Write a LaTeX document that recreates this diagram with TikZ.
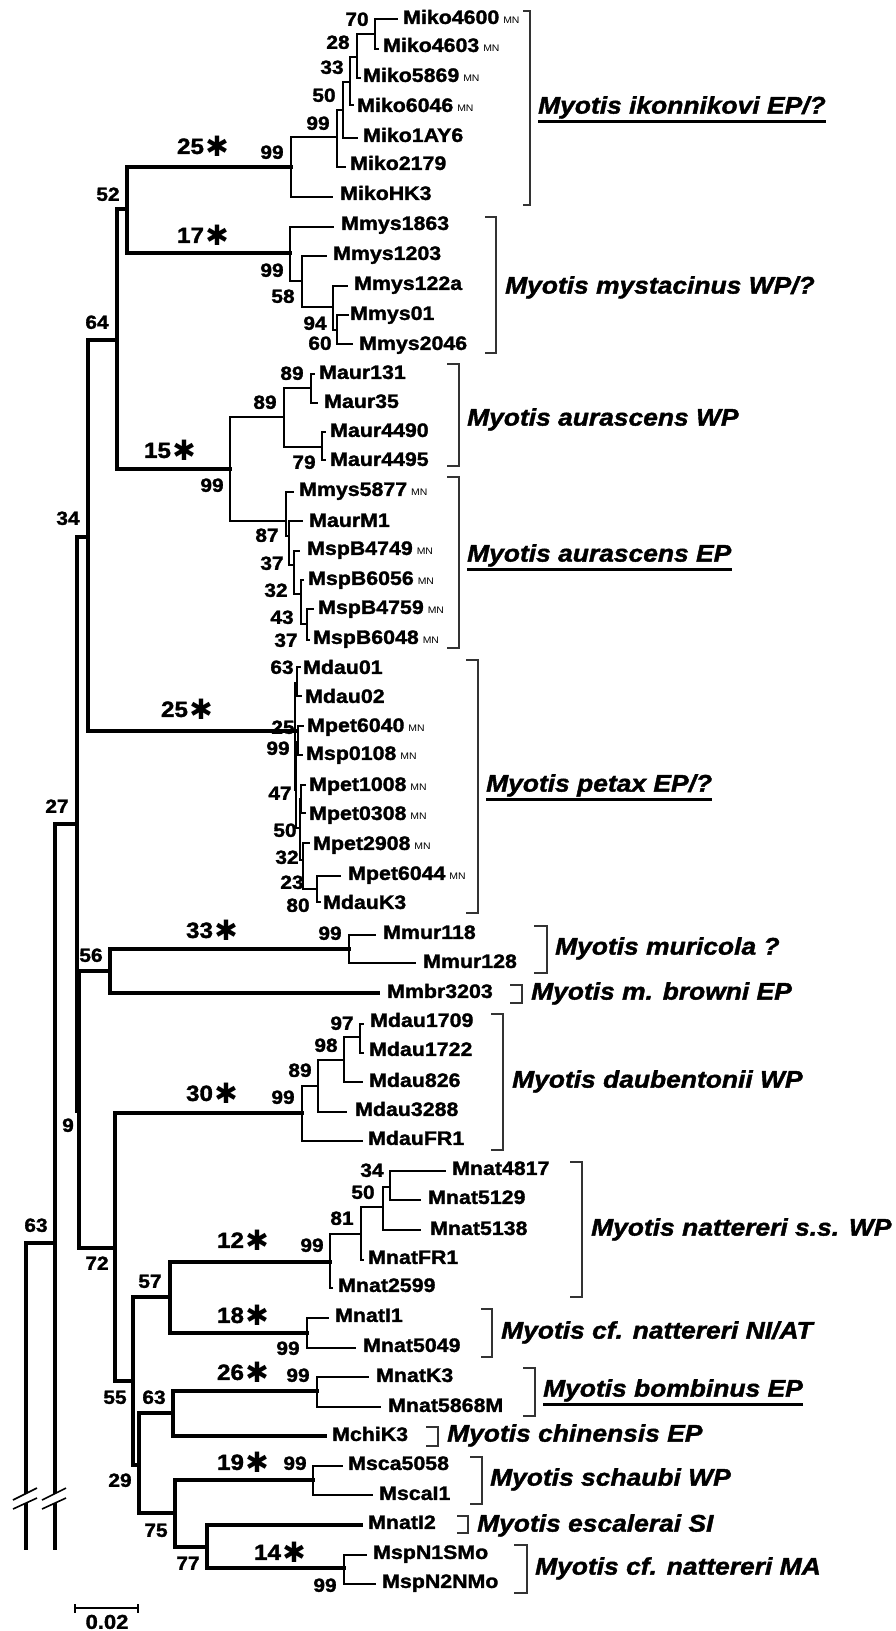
\documentclass[tikz,border=0pt]{standalone}
\usepackage{fontspec}
\setmainfont{Liberation Sans}[FakeStretch=1.1]
\newfontfamily\hvy{Liberation Sans Bold}[FakeStretch=1.1,FakeBold=1.6]
\newfontfamily\hvyit{Liberation Sans Bold Italic}[FakeStretch=1.1,FakeBold=1.6]
\newfontfamily\starfont{DejaVu Sans}
\newcommand\taxf{\fontsize{19.4}{22}\selectfont\hvy}
\newcommand\bsf{\fontsize{19}{22}\selectfont\hvy}
\newcommand\agef{\fontsize{22}{24}\selectfont\hvy}
\newcommand\spcf{\fontsize{24}{26}\selectfont\hvyit}
\newcommand\mn{\hspace{4pt}{\fontsize{9.5}{10}\selectfont\rmfamily\mdseries MN}}
\newcommand\agestar{\hspace{1.5pt}\raisebox{-2.2pt}{\starfont\bfseries\fontsize{28}{30}\selectfont ✱}}
\begin{document}
\begin{tikzpicture}[x=1pt,y=-1pt,
  thinln/.style={line width=1.3pt,line cap=rect},
  thickln/.style={line width=3.8pt,line cap=rect,line join=miter},
  brkln/.style={line width=1.6pt,draw=black!80},
  uline/.style={line width=3pt},
  tax/.style={anchor=base west,inner sep=0pt,yshift=-6.9pt,font=\taxf},
  bs/.style={anchor=base,inner sep=0pt,yshift=-6.8pt,font=\bsf},
  age/.style={anchor=base,inner sep=0pt,yshift=-7.9pt,font=\agef},
  spc/.style={anchor=base west,inner sep=0pt,yshift=-8.6pt,font=\spcf}]
\useasboundingbox (0,0) rectangle (896,1631);
% ---------- backbone coordinates
\coordinate (cut1) at (26,1548);
\coordinate (cut2) at (55,1548);
\coordinate (rt) at (26,1243);
\coordinate (n63) at (55,1243);
\coordinate (n27) at (77,824);
\coordinate (n34) at (88,537);
\coordinate (n64) at (117,340);
\coordinate (n52) at (127,209);
\coordinate (K99) at (291,167);
\coordinate (Y99) at (290,253);
\coordinate (A99) at (230,469);
\coordinate (P99) at (295,731);
\coordinate (n9) at (79,1111);
\coordinate (n56) at (110,971);
\coordinate (U99) at (349,949);
\coordinate (tMmbr) at (378,993);
\coordinate (n72) at (115,1248);
\coordinate (D99) at (302,1113);
\coordinate (n55) at (133,1381);
\coordinate (n57) at (170,1297);
\coordinate (N99) at (330,1262);
\coordinate (I99) at (307,1333);
\coordinate (n29) at (139,1465);
\coordinate (n63b) at (173,1413);
\coordinate (B99) at (317,1391);
\coordinate (tMchi) at (325,1436);
\coordinate (n75) at (175,1513);
\coordinate (S99) at (313,1480);
\coordinate (n77) at (207,1547);
\coordinate (tMnatI2) at (361,1525);
\coordinate (M99) at (344,1568);
% ---------- clade coordinates
\coordinate (K99i) at (337,137); \coordinate (tHK3) at (332,197);
\coordinate (K50) at (343,110);  \coordinate (t2179) at (345,167);
\coordinate (K33) at (350,82);   \coordinate (t1AY6) at (357,138);
\coordinate (K28) at (357,57);   \coordinate (t6046) at (353,105);
\coordinate (K70) at (375,34);   \coordinate (t5869) at (360,78);
\coordinate (t4600) at (397,19); \coordinate (t4603) at (378,49);
\coordinate (t1863) at (333,227); \coordinate (Y58) at (302,281);
\coordinate (t1203) at (326,256); \coordinate (Y94) at (333,307);
\coordinate (t122a) at (347,286); \coordinate (Y60) at (337,330);
\coordinate (t01) at (348,315);   \coordinate (t2046) at (352,344);
\coordinate (A89) at (284,417);  \coordinate (A87) at (286,521);
\coordinate (A89b) at (311,388); \coordinate (A79) at (322,447);
\coordinate (tM131) at (314,374); \coordinate (tM35) at (317,403);
\coordinate (t4490) at (325,432); \coordinate (t4495) at (325,460);
\coordinate (t5877) at (293,492); \coordinate (A37) at (289,536);
\coordinate (tM1) at (302,521);   \coordinate (A32) at (294,565);
\coordinate (t4749) at (299,551); \coordinate (A43) at (301,594);
\coordinate (t6056) at (303,580); \coordinate (A37b) at (307,624);
\coordinate (t4759) at (313,609); \coordinate (t6048) at (309,640);
\coordinate (P63) at (297,683); \coordinate (Q1) at (296,790);
\coordinate (tD01) at (300,667); \coordinate (tD02) at (301,696);
\coordinate (P25) at (298,742); \coordinate (Q2) at (300,828);
\coordinate (t6040) at (303,726); \coordinate (t0108) at (302,755);
\coordinate (P47) at (301,799); \coordinate (Q3) at (303,860);
\coordinate (t1008) at (305,785); \coordinate (t0308) at (305,813);
\coordinate (t2908) at (309,843); \coordinate (P80) at (317,889);
\coordinate (t6044) at (340,876); \coordinate (tK3) at (320,902);
\coordinate (t118) at (375,935); \coordinate (t128) at (415,963);
\coordinate (D89) at (318,1086); \coordinate (tFR1) at (362,1141);
\coordinate (D98) at (344,1060); \coordinate (t3288) at (346,1112);
\coordinate (D97) at (360,1037); \coordinate (t826) at (362,1082);
\coordinate (t1709) at (363,1024); \coordinate (t1722) at (363,1053);
\coordinate (N81) at (361,1234); \coordinate (t2599) at (332,1288);
\coordinate (N50) at (383,1207); \coordinate (tnFR1) at (363,1260);
\coordinate (N34) at (390,1187); \coordinate (t5138) at (420,1230);
\coordinate (t4817) at (445,1171); \coordinate (t5129) at (420,1200);
\coordinate (tI1) at (328,1318); \coordinate (t5049) at (355,1348);
\coordinate (tK3b) at (368,1377); \coordinate (t5868) at (380,1407);
\coordinate (t5058) at (342,1466); \coordinate (tscaI1) at (372,1495);
\coordinate (tN1) at (366,1555); \coordinate (tN2) at (375,1584);
% ---------- thick backbone
\draw[thickln] (rt) -- (n63);
\draw[thickln] (rt) -- (cut1);
\draw[thickln] (n63) -- (cut2);
\foreach \p/\c in {n63/n27,n27/n34,n27/n9,n34/n64,n34/P99,n64/n52,n64/A99,
  n52/K99,n52/Y99,n9/n56,n9/n72,n56/U99,n56/tMmbr,n72/D99,n72/n55,
  n55/n57,n55/n29,n57/N99,n57/I99,n29/n63b,n29/n75,n63b/B99,n63b/tMchi,
  n75/S99,n75/n77,n77/tMnatI2,n77/M99}
  \draw[thickln] (\p) |- (\c);
% ---------- thin clade branches
\foreach \p/\c in {K99/K99i,K99/tHK3,K99i/K50,K99i/t2179,K50/K33,K50/t1AY6,
  K33/K28,K33/t6046,K28/K70,K28/t5869,K70/t4600,K70/t4603,
  Y99/t1863,Y99/Y58,Y58/t1203,Y58/Y94,Y94/t122a,Y94/Y60,Y60/t01,Y60/t2046,
  A99/A89,A99/A87,A89/A89b,A89/A79,A89b/tM131,A89b/tM35,A79/t4490,A79/t4495,
  A87/t5877,A87/A37,A37/tM1,A37/A32,A32/t4749,A32/A43,A43/t6056,A43/A37b,
  A37b/t4759,A37b/t6048,
  P99/P63,P99/Q1,P63/tD01,P63/tD02,Q1/P25,Q1/Q2,P25/t6040,P25/t0108,
  Q2/P47,Q2/Q3,P47/t1008,P47/t0308,Q3/t2908,Q3/P80,P80/t6044,P80/tK3,
  U99/t118,U99/t128,
  D99/D89,D99/tFR1,D89/D98,D89/t3288,D98/D97,D98/t826,D97/t1709,D97/t1722,
  N99/N81,N99/t2599,N81/N50,N81/tnFR1,N50/N34,N50/t5138,N34/t4817,N34/t5129,
  I99/tI1,I99/t5049,B99/tK3b,B99/t5868,S99/t5058,S99/tscaI1,M99/tN1,M99/tN2}
  \draw[thinln] (\p) |- (\c);
% ---------- break marks
\foreach \xo in {26,55}{
  \fill[white] (\xo-5,1496.5) -- (\xo+5,1491.5) -- (\xo+5,1501) -- (\xo-5,1505.5) -- cycle;
  \draw[line width=1.6pt] (\xo-13,1500) -- (\xo+11,1488);
  \draw[line width=1.6pt] (\xo-13,1509) -- (\xo+11,1498);
}
% ---------- taxon labels
\foreach \x/\y/\t [count=\i] in {
  403/17/Miko4600\mn, 383/45/Miko4603\mn, 363/75/Miko5869\mn, 357/105/Miko6046\mn,
  363/135/Miko1AY6, 350/163/Miko2179, 340/193/MikoHK3,
  341/223/Mmys1863, 333/253/Mmys1203, 354/283/Mmys122a, 350/313/Mmys01, 359/343/Mmys2046,
  319/372/Maur131, 324/401/Maur35, 330/430/Maur4490, 330/459/Maur4495,
  299/489/Mmys5877\mn, 309/520/MaurM1, 307/548/MspB4749\mn, 308/578/MspB6056\mn,
  318/607/MspB4759\mn, 313/637/MspB6048\mn,
  303/667/Mdau01, 305/696/Mdau02, 307/725/Mpet6040\mn, 306/753/Msp0108\mn,
  309/784/Mpet1008\mn, 309/813/Mpet0308\mn, 313/843/Mpet2908\mn, 348/873/Mpet6044\mn,
  323/902/MdauK3,
  383/932/Mmur118, 423/961/Mmur128, 387/991/Mmbr3203,
  370/1020/Mdau1709, 369/1049/Mdau1722, 369/1080/Mdau826, 355/1109/Mdau3288, 368/1138/MdauFR1,
  452/1168/Mnat4817, 428/1197/Mnat5129, 430/1228/Mnat5138, 368/1257/MnatFR1, 338/1285/Mnat2599,
  335/1315/MnatI1, 363/1345/Mnat5049,
  376/1375/MnatK3, 388/1405/Mnat5868M, 332/1434/MchiK3,
  348/1463/Msca5058, 379/1493/MscaI1, 368/1522/MnatI2,
  373/1552/MspN1SMo, 382/1581/MspN2NMo}
  \node[tax] (tx\i) at (\x,\y) {\t};
% ---------- bootstrap values
\foreach \x/\y/\t [count=\i] in {
  357/19/70, 338/42/28, 332/67/33, 324/95/50, 318/123/99, 272/152/99,
  272/270/99, 283/296/58, 315/323/94, 320/343/60,
  212/485/99, 265/402/89, 292/373/89, 304/462/79, 267/535/87, 272/563/37,
  276/590/32, 282/617/43, 286/640/37,
  282/667/63, 283/727/25, 278/748/99, 280/793/47, 285/830/50, 287/857/32,
  292/882/23, 298/905/80,
  108/194/52, 97/322/64, 68/518/34, 57/806/27, 91/955/56, 68/1125/9,
  97/1263/72, 36/1225/63, 150/1281/57, 115/1397/55, 154/1397/63,
  120/1480/29, 156/1530/75, 188/1563/77,
  330/933/99, 283/1097/99, 300/1070/89, 326/1045/98, 342/1023/97,
  312/1245/99, 342/1218/81, 363/1192/50, 372/1170/34,
  288/1348/99, 298/1375/99, 295/1463/99, 325/1585/99}
  \node[bs] (bs\i) at (\x,\y) {\t};
% ---------- clade ages
\foreach \x/\y/\t [count=\i] in {
  203/146/25, 203/235/17, 170/450/15, 187/709/25, 212/930/33, 212/1093/30,
  243/1240/12, 243/1315/18, 243/1372/26, 243/1462/19, 280/1552/14}
  \node[age] (ag\i) at (\x,\y) {\t\agestar};
% ---------- brackets
\foreach \bx/\bt/\bb/\bk [count=\i] in {
  530/11/205/523, 496/217/353/485, 459/364/466/447, 459/477/648/447,
  478/660/913/466, 547/926/973/534, 522/985/1003/510, 503/1014/1150/491,
  582/1162/1297/570, 492/1309/1357/481, 535/1368/1416/523, 438/1427/1446/426,
  482/1457/1504/470, 468/1516/1533/457, 527/1545/1593/514}
  \draw[brkln] (\bk,\bt) -- (\bx,\bt) -- (\bx,\bb) -- (\bk,\bb);
% ---------- species labels
\node[spc] (sp1) at (538,105) {Myotis ikonnikovi EP/?};
\node[spc] (sp2) at (505,285) {Myotis mystacinus WP/?};
\node[spc] (sp3) at (467,417) {Myotis aurascens WP};
\node[spc] (sp4) at (467,553) {Myotis aurascens EP};
\node[spc] (sp5) at (486,783) {Myotis petax EP/?};
\node[spc] (sp6) at (555,946) {Myotis muricola ?};
\node[spc] (sp7) at (531,991) {Myotis m. browni EP};
\node[spc] (sp8) at (512,1079) {Myotis daubentonii WP};
\node[spc] (sp9) at (591,1227) {Myotis nattereri s.s. WP};
\node[spc] (sp10) at (501,1330) {Myotis cf. nattereri NI/AT};
\node[spc] (sp11) at (543,1388) {Myotis bombinus EP};
\node[spc] (sp12) at (447,1433) {Myotis chinensis EP};
\node[spc] (sp13) at (490,1477) {Myotis schaubi WP};
\node[spc] (sp14) at (477,1523) {Myotis escalerai SI};
\node[spc] (sp15) at (535,1566) {Myotis cf. nattereri MA};
\foreach \s in {sp1,sp4,sp5,sp11}
  \draw[uline] ([yshift=-8pt]\s.base west) -- ([yshift=-8pt]\s.base east);
% ---------- scale bar
\coordinate (sb1) at (75,1608);
\coordinate (sb2) at (138,1608);
\draw[line width=1.5pt] (sb1) -- (sb2);
\draw[line width=1.5pt] ([yshift=4pt]sb1) -- ([yshift=-5pt]sb1);
\draw[line width=1.5pt] ([yshift=4pt]sb2) -- ([yshift=-5pt]sb2);
\node[bs,font=\fontsize{20}{22}\selectfont\hvy] (sbl) at (107,1622) {0.02};
\end{tikzpicture}
\end{document}
